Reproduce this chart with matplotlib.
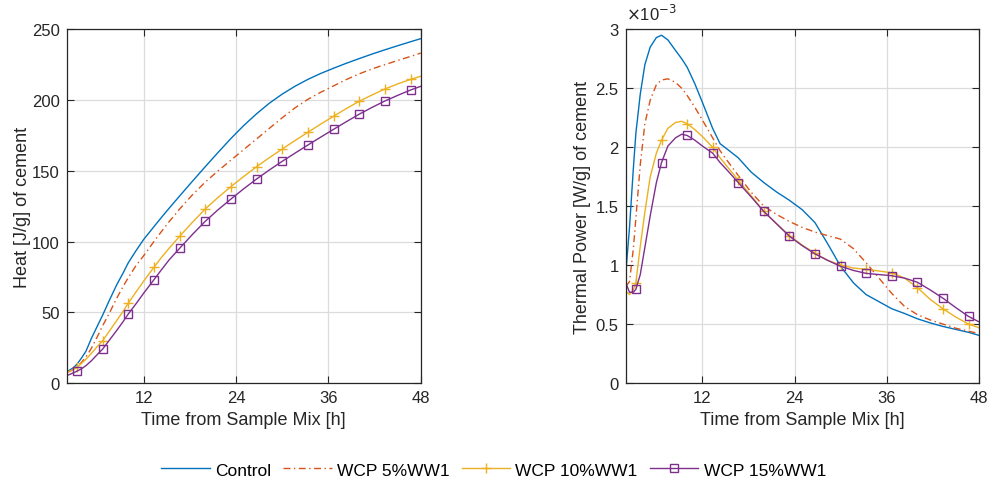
import matplotlib
matplotlib.use("Agg")
import matplotlib.pyplot as plt
import numpy as np
from matplotlib.ticker import FuncFormatter

plt.rcParams["font.family"] = ["Liberation Sans", "DejaVu Sans"]

# time grid [h]
time_h = [2, 2.5, 3, 3.33, 3.9, 4.5, 5.2, 6, 6.67, 7.5, 8.5, 9.3, 10, 11, 12,
          13.33, 14.3, 15.3, 16.67, 18.33, 20, 21.67, 23.33, 25, 26.67, 28.33,
          30, 31.67, 33.33, 35, 36.67, 38.33, 40, 41.67, 43.33, 45, 46.67, 48]
marker_times = [3.33, 6.67, 10, 13.33, 16.67, 20, 23.33, 26.67, 30, 33.33,
                36.67, 40, 43.33, 46.67]

series_names = ["Control", "WCP 5%WW1", "WCP 10%WW1", "WCP 15%WW1"]

# cumulative heat [J/g of cement]
heat_control = [8, 9.5, 11.5, 13.3, 17.5, 22.5, 31.5, 40.5, 48, 58, 69.5, 77.5,
                85, 93.5, 101.5, 110.5, 117, 123.5, 132.2, 142.6, 152.9, 163,
                172.8, 182, 190.3, 197.8, 204.2, 209.8, 214.6, 218.8, 222.5,
                226, 229.3, 232.5, 235.5, 238.4, 241.2, 243.4]
heat_wcp5 = [7.5, 8.5, 10, 11.2, 14.5, 18.5, 24.5, 33, 40.5, 49, 60, 68, 74.5,
             83, 90, 100, 107, 114, 123, 133, 142, 150, 157.5, 165, 172.5, 180,
             187.5, 194.5, 200.5, 205.5, 210, 214.5, 218.5, 222, 225, 228,
             230.8, 233.2]
heat_wcp10 = [7.5, 8.6, 10, 11.2, 13.8, 16.8, 20.9, 26, 29.9, 36.4, 44.2, 50.5,
              56.5, 64.3, 72, 81.8, 88.7, 95.2, 103.7, 113.6, 123, 131.2, 138.8,
              146, 152.9, 159.3, 165.4, 171.4, 177.2, 183, 188.5, 194, 199.1,
              203.6, 207.8, 211.4, 214.6, 216.8]
heat_wcp15 = [5.3, 6.3, 7.5, 8.4, 10, 12.3, 15.7, 20.3, 24, 30, 37.2, 43.2,
              48.8, 56, 63.5, 73, 80, 87, 95.2, 105, 114.3, 122.5, 130, 137.3,
              144.2, 150.6, 156.7, 162.5, 168.2, 173.8, 179.3, 184.7, 190,
              194.8, 199.3, 203.3, 207.1, 209.7]

# thermal power [W/g of cement], in units of 1e-3
power_control = [0.92, 1.32, 1.82, 2.12, 2.45, 2.70, 2.85, 2.93, 2.95, 2.91,
                 2.82, 2.75, 2.68, 2.54, 2.38, 2.16, 2.03, 1.98, 1.91, 1.79,
                 1.70, 1.62, 1.55, 1.47, 1.36, 1.18, 0.99, 0.85, 0.75, 0.69,
                 0.63, 0.59, 0.545, 0.51, 0.48, 0.455, 0.43, 0.405]
power_wcp5 = [0.82, 0.86, 1.14, 1.40, 1.85, 2.20, 2.40, 2.53, 2.57, 2.58, 2.55,
              2.50, 2.44, 2.34, 2.23, 2.08, 1.97, 1.88, 1.76, 1.62, 1.50, 1.43,
              1.37, 1.32, 1.28, 1.25, 1.22, 1.14, 1.02, 0.89, 0.76, 0.65, 0.58,
              0.535, 0.50, 0.465, 0.44, 0.42]
power_wcp10 = [0.78, 0.75, 0.79, 0.85, 1.16, 1.45, 1.75, 1.95, 2.06, 2.16,
               2.21, 2.22, 2.20, 2.15, 2.09, 2.00, 1.91, 1.83, 1.72, 1.59,
               1.455, 1.35, 1.25, 1.17, 1.10, 1.04, 1.00, 0.975, 0.965, 0.95,
               0.935, 0.89, 0.81, 0.71, 0.63, 0.56, 0.50, 0.47]
power_wcp15 = [0.85, 0.77, 0.77, 0.795, 0.92, 1.15, 1.42, 1.70, 1.87, 2.01,
               2.08, 2.11, 2.10, 2.06, 2.01, 1.95, 1.87, 1.80, 1.70, 1.58,
               1.455, 1.35, 1.245, 1.165, 1.095, 1.04, 0.99, 0.955, 0.93, 0.92,
               0.91, 0.89, 0.855, 0.79, 0.72, 0.64, 0.565, 0.52]

colors = ["#0072BD", "#D95319", "#EDB120", "#7E2F8E"]
dark = "#262626"

t = np.asarray(time_h)
mark_idx = list(np.flatnonzero(np.isin(t, marker_times)))

styles = [
    dict(color=colors[0], lw=1.0),
    dict(color=colors[1], lw=1.0, dashes=(5, 2.5, 1, 2.5)),
    dict(color=colors[2], lw=1.0, marker="+", ms=7, mew=1.0, markevery=mark_idx),
    dict(color=colors[3], lw=1.0, marker="s", ms=6, mew=1.0, mfc="none",
         markevery=mark_idx),
]


def style_axes(ax, ylim, yticks):
    ax.set_xlim(2, 48)
    ax.set_xticks([12, 24, 36, 48])
    ax.set_ylim(*ylim)
    ax.set_yticks(yticks)
    ax.yaxis.set_major_formatter(FuncFormatter(lambda v, p: f"{v:g}"))
    ax.grid(True, color="#DCDCDC", lw=0.9)
    ax.set_axisbelow(True)
    ax.tick_params(direction="in", length=5, width=0.8, top=True, right=True,
                   labelsize=12, colors=dark, pad=5)
    for s in ax.spines.values():
        s.set_color(dark)
        s.set_linewidth(0.9)
    ax.set_xlabel("Time from Sample Mix [h]", fontsize=13, color=dark,
                  labelpad=4)


fig = plt.figure(figsize=(9.9, 4.85), dpi=100)
ax1 = fig.add_axes([0.0674, 0.2082, 0.3576, 0.7293])
ax2 = fig.add_axes([0.632, 0.2082, 0.3566, 0.7293])

heats = [heat_control, heat_wcp5, heat_wcp10, heat_wcp15]
powers = [power_control, power_wcp5, power_wcp10, power_wcp15]

handles = []
for name, h, p, st in zip(series_names, heats, powers, styles):
    line, = ax1.plot(t, h, label=name, **st)
    ax2.plot(t, p, **st)
    handles.append(line)

style_axes(ax1, (0, 250), np.arange(0, 251, 50))
ax1.set_ylabel("Heat [J/g] of cement", fontsize=13, color=dark, labelpad=1)

style_axes(ax2, (0, 3), np.arange(0, 3.01, 0.5))
ax2.set_ylabel("Thermal Power [W/g] of cement", fontsize=13, color=dark,
               labelpad=3)
ax2.text(0.0, 1.018, r"$\times$10$^{-3}$", transform=ax2.transAxes,
         fontsize=12, color=dark, ha="left", va="bottom")

fig.legend(handles=handles, loc="center", bbox_to_anchor=(0.4985, 0.029),
           ncol=4, frameon=False, fontsize=12.5, handlelength=2.8,
           handletextpad=0.3, columnspacing=0.7)

fig.savefig("out.png", dpi=100)
